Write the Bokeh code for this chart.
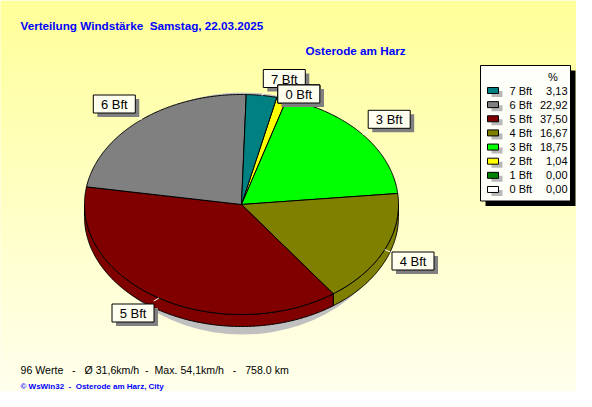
import numpy as np
from bokeh.plotting import figure
from bokeh.models import Range1d
from bokeh.embed import file_html
from bokeh.resources import INLINE
from bokeh.core.properties import value

# ---------------- data ----------------
classes = ["0 Bft", "1 Bft", "2 Bft", "3 Bft", "4 Bft", "5 Bft", "6 Bft", "7 Bft"]
percent = [0.00, 0.00, 1.04, 18.75, 16.67, 37.50, 22.92, 3.13]
slice_colors = ["#FFFFFF", "#008000", "#FFFF00", "#00FF00",
                "#808000", "#800000", "#808080", "#008080"]
title_text = "Verteilung Windstärke  Samstag, 22.03.2025"
station_text = "Osterode am Harz"
stats_text = "96 Werte   -   Ø 31,6km/h  -  Max. 54,1km/h   -   758.0 km"
credit_text = "© WsWin32  -  Osterode am Harz, City"
legend_header = "%"


def keep_spaces(s):
    # SVG collapses runs of spaces; keep them with no-break spaces
    return s.replace("  ", " \u00a0")


# ---------------- layout / style ----------------
W, H = 576, 391
X0, Y0 = 0, 0            # data units == reference pixels
cx, cy, rx, ry, depth = 241.0, 204.0, 157.0, 110.0, 12.0
start_deg = 77.0         # slices run clockwise from here
SANS = "'Liberation Sans', Arial"

label_pos = {            # label box centres (layout)
    "6 Bft": (113.8, 103.5), "3 Bft": (388.7, 118.8), "4 Bft": (412.5, 260.5),
    "5 Bft": (132.5, 312.5), "7 Bft": (283.8, 78.0), "2 Bft": (298.3, 93.5),
    "1 Bft": (298.3, 93.5), "0 Bft": (298.3, 93.5),
}
label_draw_order = ["6 Bft", "3 Bft", "4 Bft", "5 Bft", "7 Bft", "2 Bft", "1 Bft", "0 Bft"]

p = figure(width=W, height=H, output_backend="svg", toolbar_location=None,
           x_range=Range1d(X0, X0 + W), y_range=Range1d(Y0 + H, Y0),
           min_border=0)
p.axis.visible = False
p.grid.visible = False
p.outline_line_color = None
p.background_fill_color = "#FFFFF0"
p.border_fill_color = "#FFFFF0"

# background vertical gradient (yellow -> ivory)
n_strips = 80
edges = np.linspace(0, 407, n_strips + 1)
cols = []
for i in range(n_strips):
    t = (edges[i] + edges[i + 1]) / 2 / 407.0
    b = int(round(153 + (240 - 153) * t))
    cols.append("#%02X%02X%02X" % (255, 255, b))
p.quad(left=-10, right=600, top=edges[:-1], bottom=edges[1:] + 0.5,
       fill_color=cols, line_color=None)

# shadow under the pie
p.ellipse(x=[242], y=[213], width=[300], height=[242],
          fill_color="#C0C0C0", line_color=None)

# ---------------- pie geometry from data ----------------
vals = np.array(percent, dtype=float)
frac = vals / vals.sum()
a_start = start_deg - np.concatenate([[0], np.cumsum(frac)[:-1]]) * 360.0
a_end = a_start - frac * 360.0


def pt(a_deg, dy=0.0):
    a = np.radians(a_deg)
    return cx + rx * np.cos(a), cy - ry * np.sin(a) + dy


# side walls (visible lower half)
wx, wy, wc = [], [], []
for i in range(len(classes)):
    if frac[i] <= 0:
        continue
    lo, hi = a_end[i], a_start[i]
    for k in range(-2, 3):
        s0, s1 = -180.0 + 360 * k, 0.0 + 360 * k
        a0, a1 = max(lo, s0), min(hi, s1)
        if a1 - a0 <= 0.01:
            continue
        angs = np.linspace(a0, a1, max(3, int((a1 - a0) * 2)))
        tx, ty = pt(angs)
        bx, by = pt(angs[::-1], depth)
        wx.append(list(tx) + list(bx))
        wy.append(list(ty) + list(by))
        wc.append(slice_colors[i])
p.patches(xs=wx, ys=wy, fill_color=wc, line_color="black", line_width=1)

# top faces
fx, fy, fc = [], [], []
for i in range(len(classes)):
    if frac[i] <= 0:
        continue
    angs = np.linspace(a_start[i], a_end[i], max(3, int(frac[i] * 720)))
    ax_, ay_ = pt(angs)
    fx.append([cx] + list(ax_))
    fy.append([cy] + list(ay_))
    fc.append(slice_colors[i])
p.patches(xs=fx, ys=fy, fill_color=fc, line_color="black", line_width=1)

# leader ticks (white) from slice mid-angle toward label
tx0, ty0, tx1, ty1 = [], [], [], []
for i, name in enumerate(classes):
    if frac[i] <= 0:
        continue
    mid = (a_start[i] + a_end[i]) / 2
    ex, ey = pt(mid)
    lx, ly = label_pos[name]
    d = np.hypot(lx - ex, ly - ey)
    tx0.append(ex); ty0.append(ey)
    tx1.append(ex + 6 * (lx - ex) / d); ty1.append(ey + 6 * (ly - ey) / d)
p.segment(x0=tx0, y0=ty0, x1=tx1, y1=ty1, line_color="white", line_width=1)

# labels
for n in label_draw_order:
    lx, ly = label_pos[n]
    p.rect(x=[lx + 4], y=[ly + 4], width=42, height=18,
           fill_color="#808080", line_color=None)
    p.rect(x=[lx], y=[ly], width=42, height=18,
           fill_color="#FFFFF0", line_color="black", line_width=1)
    p.text(x=[lx], y=[ly + 0.5], text=[n], text_align="center",
           text_baseline="middle", text_font=value(SANS),
           text_font_size="13px", text_color="black")

# ---------------- legend ----------------
lg_left, lg_top, lg_right, lg_bot = 480, 65, 570, 200.5
p.quad(left=[lg_left + 5], right=[lg_right + 5], top=[lg_top + 5], bottom=[lg_bot + 5],
       fill_color="black", line_color=None)
p.quad(left=[lg_left], right=[lg_right], top=[lg_top], bottom=[lg_bot],
       fill_color="#FFFFFA", line_color="black", line_width=1)
p.text(x=[552.5], y=[76], text=[legend_header], text_align="center",
       text_baseline="middle", text_font=value(SANS), text_font_size="11px",
       text_color="black")
leg_names = classes[::-1]
leg_vals = [("%.2f" % v).replace(".", ",") for v in percent[::-1]]
leg_cols = slice_colors[::-1]
row_y = [90 + 14.14 * k for k in range(len(leg_names))]
p.rect(x=[496.5] * len(row_y), y=[y + 3.5 for y in row_y], width=11, height=6,
       fill_color="#B8B8B8", line_color=None)
p.rect(x=[492.5] * len(row_y), y=row_y, width=11, height=6,
       fill_color=leg_cols, line_color="black", line_width=1)
p.text(x=[509] * len(row_y), y=row_y, text=leg_names, text_align="left",
       text_baseline="middle", text_font=value(SANS), text_font_size="11px",
       text_color="black")
p.text(x=[567] * len(row_y), y=row_y, text=leg_vals, text_align="right",
       text_baseline="middle", text_font=value(SANS), text_font_size="11px",
       text_color="black")

# ---------------- titles / footer ----------------
p.text(x=[20], y=[25], text=[keep_spaces(title_text)], text_align="left",
       text_baseline="middle", text_font=value(SANS), text_font_size="11.7px",
       text_font_style="bold", text_color="#0000FF")
p.text(x=[305], y=[50], text=[keep_spaces(station_text)], text_align="left",
       text_baseline="middle", text_font=value(SANS), text_font_size="11.7px",
       text_font_style="bold", text_color="#0000FF")
p.text(x=[20], y=[369.5], text=[keep_spaces(stats_text)], text_align="left",
       text_baseline="middle", text_font=value(SANS), text_font_size="10.6px",
       text_color="black")
p.text(x=[20], y=[386], text=[keep_spaces(credit_text)], text_align="left",
       text_baseline="middle", text_font=value(SANS), text_font_size="8px",
       text_font_style="bold", text_color="#0000FF")

open("out.html", "w").write(file_html(p, INLINE))
